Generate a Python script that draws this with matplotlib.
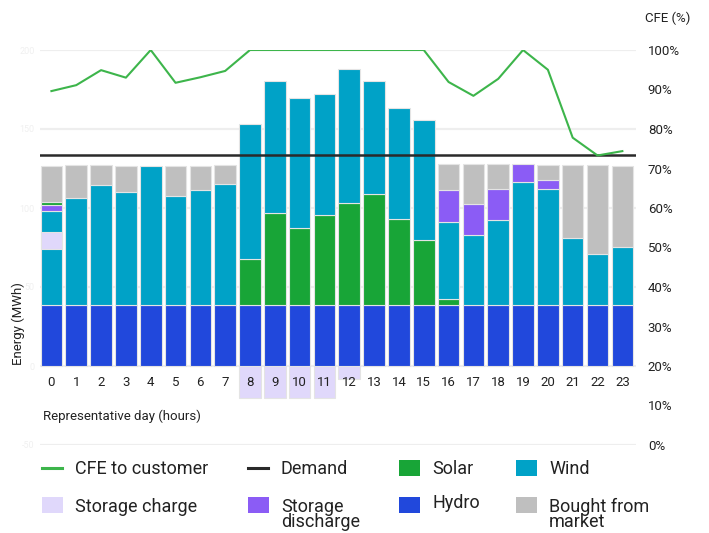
import matplotlib
matplotlib.use("Agg")
import matplotlib.pyplot as plt
from matplotlib.patches import Rectangle
from matplotlib.lines import Line2D

plt.rcParams['font.family'] = ['Roboto', 'DejaVu Sans']

# ---------------- data ----------------
hours = list(range(24))
hour_labels = [str(h) for h in hours]
hydro = [38.4, 38.4, 38.4, 38.4, 38.4, 38.4, 38.4, 38.4, 38.4, 38.4, 38.4, 38.4,
         38.4, 38.4, 38.4, 38.4, 38.4, 38.4, 38.4, 38.4, 38.4, 38.4, 38.4, 38.4]
solar = [1.7, 0, 0, 0, 0, 0, 0, 0, 29.1, 58.6, 49.1, 57.2,
         64.6, 70.7, 54.6, 41.3, 3.8, 0, 0, 0, 0, 0, 0, 0]
wind = [59.7, 68.1, 76.4, 71.7, 88.2, 69.2, 73.2, 76.6, 85.9, 83.4, 81.9, 76.8,
        84.8, 71.5, 70.1, 75.8, 48.9, 44.3, 54.0, 77.8, 73.4, 42.8, 32.7, 37.1]
storage_discharge = [3.8, 0, 0, 0, 0, 0, 0, 0, 0, 0, 0, 0,
                     0, 0, 0, 0, 20.1, 20.0, 19.6, 11.6, 5.9, 0, 0, 0]
bought = [23.2, 20.7, 12.4, 16.7, 0, 19.0, 15.2, 12.4, 0, 0, 0, 0,
          0, 0, 0, 0, 16.6, 24.9, 15.8, 0, 9.7, 45.8, 55.9, 51.1]
storage_charge = [11.0, 0, 0, 0, 0, 0, 0, 0, -20.0, -20.0, -20.0, -20.0,
                  -8.2, 0, 0, 0, 0, 0, 0, 0, 0, 0, 0, 0]
storage_charge_base = [74.0, 0, 0, 0, 0, 0, 0, 0, 0, 0, 0, 0,
                       0, 0, 0, 0, 0, 0, 0, 0, 0, 0, 0, 0]
demand = 133.7
cfe_pct = [89.6, 91.1, 94.9, 93.0, 100, 91.7, 93.1, 94.7, 100, 100, 100, 100,
           100, 100, 100, 100, 91.9, 88.4, 92.7, 100, 95.0, 77.8, 73.3, 74.4]
left_ticks = [-50, 0, 50, 100, 150, 200]
right_ticks = [0, 10, 20, 30, 40, 50, 60, 70, 80, 90, 100]

# ---------------- style ----------------
C_HYDRO = '#2148dc'
C_WIND = '#00a2c7'
C_SOLAR = '#18a537'
C_BOUGHT = '#bfbfbf'
C_DIS = '#8b5cf5'
C_CHG = '#e0d8fb'
C_CFE = '#3db54b'
C_DEM = '#2a2a2a'
TXT = '#222222'

W, H = 709, 533
fig = plt.figure(figsize=(W / 100, H / 100), dpi=100)

def fx(x):
    return x / W

def fy(y):
    return 1 - y / H

ax = fig.add_axes([fx(40), fy(445), fx(636) - fx(40), fy(50) - fy(445)])
ax.set_xlim(-0.46, 23.55)
ax.set_ylim(-50, 200)

for s in ax.spines.values():
    s.set_visible(False)
ax.set_xticks([])
ax.set_yticks(left_ticks)
ax.set_yticklabels([str(t) for t in left_ticks], color='#f0f0f0', fontsize=6.5)
ax.tick_params(axis='y', length=0, pad=4)
ax.grid(axis='y', color='#eeeeee', linewidth=1.6, zorder=0)
ax.set_axisbelow(True)

series = {'hydro': (hydro, C_HYDRO), 'solar': (solar, C_SOLAR), 'wind': (wind, C_WIND),
          'dis': (storage_discharge, C_DIS), 'bought': (bought, C_BOUGHT)}
default_order = ['hydro', 'solar', 'wind', 'dis', 'bought']
first_order = ['hydro', 'wind', 'dis', 'solar', 'bought']

bw = 0.87
for i, h in enumerate(hours):
    order = first_order if i == 0 else default_order
    base = 0.0
    for key in order:
        vals, col = series[key]
        v = vals[i]
        if v > 0:
            ax.bar(h, v, bottom=base, width=bw, color=col, edgecolor='#e4e4e4',
                   linewidth=0.8, zorder=2)
            base += v

# storage charge (floating / negative)
for i, h in enumerate(hours):
    if storage_charge[i] != 0:
        z = 3 if storage_charge[i] > 0 else 1
        ax.bar(h, storage_charge[i], bottom=storage_charge_base[i], width=bw,
               color=C_CHG, edgecolor='#e4e4e4', linewidth=0.8, zorder=z)

# demand line
ax.axhline(demand, color=C_DEM, linewidth=1.8, zorder=4)

# x tick labels drawn inside plot
for h, lab in zip(hours, hour_labels):
    ax.text(h, -10.2, lab, ha='center', va='center', fontsize=9.5, color=TXT, zorder=5)
ax.text(-0.32, -32, 'Representative day (hours)', ha='left', va='center',
        fontsize=9.5, color=TXT)

# right axis CFE
ax2 = ax.twinx()
ax2.set_ylim(0, 100)
for s in ax2.spines.values():
    s.set_visible(False)
ax2.set_yticks(right_ticks)
ax2.set_yticklabels([f'{t}%' for t in right_ticks], fontsize=9.5, color=TXT)
ax2.tick_params(axis='y', length=0, pad=8.5)
ax2.plot(hours, cfe_pct, color=C_CFE, linewidth=1.5, zorder=5)

fig.text(fx(645), fy(18), 'CFE (%)', ha='left', va='center', fontsize=9.5, color=TXT)
fig.text(fx(18), fy(324), 'Energy (MWh)', rotation=90, ha='center', va='center',
         fontsize=9.5, color=TXT)

# ---------------- legend (manual) ----------------
LFS = 13

def leg_line(x0, y, col, label):
    fig.add_artist(Line2D([fx(x0), fx(x0 + 20)], [fy(y), fy(y)], color=col, linewidth=2.2))
    fig.text(fx(x0 + 33), fy(y + 1), label, ha='left', va='center', fontsize=LFS, color=TXT)

def leg_box(x0, ytop, col, label, ty, fs=LFS):
    fig.add_artist(Rectangle((fx(x0), fy(ytop + 16)), fx(21), 16 / H, color=col,
                             transform=fig.transFigure, linewidth=0))
    fig.text(fx(x0 + 33), fy(ty), label, ha='left', va='center', fontsize=fs,
             color=TXT, linespacing=0.85)

leg_line(42, 468, C_CFE, 'CFE to customer')
leg_line(248, 468, C_DEM, 'Demand')
leg_box(399, 460, C_SOLAR, 'Solar', 469)
leg_box(516, 460, C_WIND, 'Wind', 469)
leg_box(42, 497, C_CHG, 'Storage charge', 507)
leg_box(248, 497, C_DIS, 'Storage\ndischarge', 514.5)
leg_box(399, 497, C_HYDRO, 'Hydro', 503)
leg_box(516, 497, C_BOUGHT, 'Bought from\nmarket', 514.5)

fig.savefig('out.png', dpi=100)
